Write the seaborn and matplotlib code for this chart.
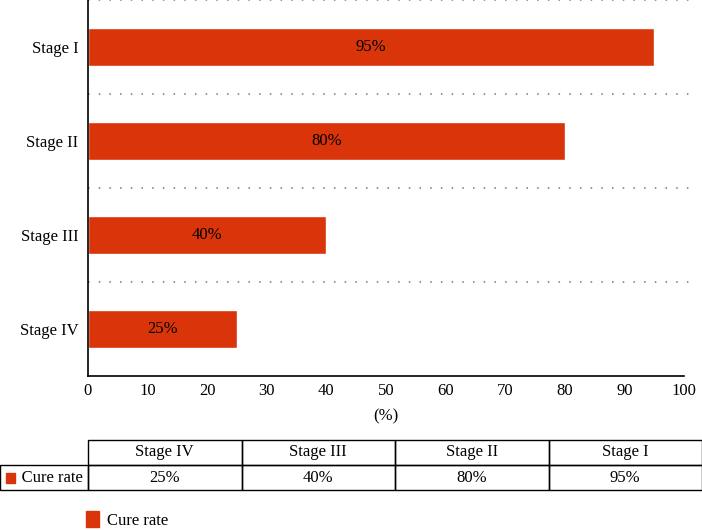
import matplotlib
matplotlib.use("Agg")
import matplotlib.pyplot as plt
import seaborn as sns
import pandas as pd
from matplotlib.patches import Patch, Rectangle

stages = ["Stage I", "Stage II", "Stage III", "Stage IV"]
cure_rate = [95, 80, 40, 25]
xticks = [0, 10, 20, 30, 40, 50, 60, 70, 80, 90, 100]
table_cols = ["Stage IV", "Stage III", "Stage II", "Stage I"]
table_vals = ["25%", "40%", "80%", "95%"]
series_name = "Cure rate"

color = "#D9340A"

sns.set_theme(style="white")
plt.rcParams["font.family"] = ["Liberation Serif", "DejaVu Serif"]
for k in ["text.color", "xtick.color", "ytick.color", "axes.labelcolor"]:
    plt.rcParams[k] = "black"

W, H = 702, 530
fig = plt.figure(figsize=(W / 100, H / 100), dpi=100)
ax_l, ax_r, ax_t, ax_b = 88, 684, 0, 376
ax = fig.add_axes([ax_l / W, (H - ax_b) / H, (ax_r - ax_l) / W, (ax_b - ax_t) / H])

df = pd.DataFrame({"stage": stages, "rate": cure_rate})
sns.barplot(data=df, x="rate", y="stage", orient="h", color=color, width=0.4,
            saturation=1, ax=ax, order=stages)

for p, v in zip(ax.patches, cure_rate):
    ax.text(p.get_x() + p.get_width() / 2, p.get_y() + p.get_height() / 2,
            f"{v}%", ha="center", va="center", fontsize=12, color="black")

ax.set_xlim(0, 100)
ax.set_ylim(3.5, -0.5)
ax.set_xticks(xticks)
ax.set_xticklabels([str(t) for t in xticks], fontsize=12)
ax.tick_params(axis="y", labelsize=12, length=0, pad=7)
ax.tick_params(axis="x", length=0, pad=5)
ax.set_ylabel("")
ax.set_xlabel("(%)", fontsize=12, labelpad=7)

for y in [-0.5, 0.5, 1.5, 2.5]:
    ax.axhline(y, color="#777777", linestyle=(0, (1, 6)), linewidth=1.1,
               xmin=0, xmax=1.01, clip_on=False)

for s in ["top", "right"]:
    ax.spines[s].set_visible(False)
for s in ["left", "bottom"]:
    ax.spines[s].set_color("black")
    ax.spines[s].set_linewidth(1.2)

# data table
ax_w = ax_r - ax_l
ax_h = ax_b - ax_t
tb_left, tb_right, tb_top, tb_bot = 0, 702, 440, 490
bbox = [(tb_left - ax_l) / ax_w, (ax_b - tb_bot) / ax_h,
        (tb_right - tb_left) / ax_w, (tb_bot - tb_top) / ax_h]
cell_text = [[""] + table_cols, ["     " + series_name] + table_vals]
tbl = ax.table(cellText=cell_text, colWidths=[88] + [153.5] * 4,
               cellLoc="center", bbox=bbox)
tbl.auto_set_font_size(False)
tbl.set_fontsize(12)
for (r, c), cell in tbl.get_celld().items():
    cell.set_edgecolor("black")
    cell.set_linewidth(1.0)
    cell.set_facecolor("none")
    cell.PAD = 0.01
tbl[0, 0].visible_edges = ""
tbl[1, 0].get_text().set_ha("left")
tbl[1, 0]._loc = "left"

fig.patches.append(Rectangle((6 / W, (H - 483) / H), 9 / W, 10 / H,
                             transform=fig.transFigure, color=color))

fig.legend(handles=[Patch(color=color, label=series_name)], loc="center left",
           bbox_to_anchor=(74 / W, (H - 520) / H), frameon=False, fontsize=12,
           handlelength=0.8, handleheight=1.1, handletextpad=0.5,
           borderpad=0.2)

fig.savefig("out.png", dpi=100)
